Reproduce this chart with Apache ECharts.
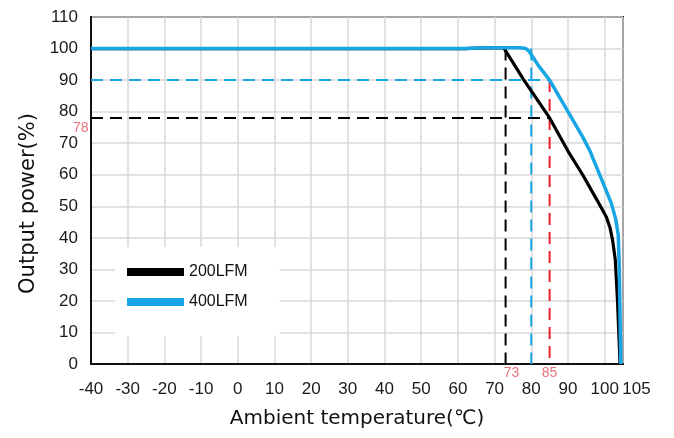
<!DOCTYPE html>
<html>
<head>
<meta charset="utf-8">
<script src="https://cdn.jsdelivr.net/npm/echarts@6/dist/echarts.min.js"></script>
<style>
html,body{margin:0;padding:0;background:#fff;}
#chart{width:674px;height:438px;}
</style>
</head>
<body>
<div id="chart"></div>
<script>
// ---- data ----
const temps200 = [-40, 62, 67, 72.5, 73, 78, 85, 90, 94, 98, 100.5, 101.5, 102.2, 102.9, 103.5, 104.2];
const power200 = [100, 100, 100.2, 100.2, 100, 90, 78, 67.5, 60, 51.8, 46.5, 43, 39, 33, 20, 0];
const temps400 = [-40, 62, 67, 77, 78.5, 79.5, 82, 85, 90, 94, 96, 99, 101.8, 103, 103.7, 104, 104.4];
const power400 = [100, 100, 100.25, 100.25, 100, 99, 94.5, 90, 80, 72, 67.5, 59, 51, 46, 41, 30, 0];
const seriesNames = ['200LFM', '400LFM'];
// reference (dashed) lines: [x1, x2], [y1, y2]
const ref78X = [-40, 85], ref78Y = [78, 78];
const ref73X = [73, 73], ref73Y = [100, 0];
const ref90X = [-40, 85], ref90Y = [90, 90];
const ref80X = [80, 80], ref80Y = [100, 0];
const ref85X = [85, 85], ref85Y = [90, 0];
// annotation labels
const noteX = [-40, 73, 85];
const noteY = [78, 0, 0];
const noteText = ['78', '73', '85'];
// axes
const xMin = -40, xMax = 105, xStep = 10;
const yMin = 0, yMax = 110, yStep = 10;

const zip = (xs, ys) => xs.map((x, i) => [x, ys[i]]);

const BLACK = '#000000';
const BLUE = '#17a6e3';
const RED = '#e8212b';
const RED_TXT = '#e4505a';
const FONT = 'Liberation Sans, Arial, sans-serif';

function dashed(name, xs, ys, color) {
  return {
    name: name, type: 'line', data: zip(xs, ys), symbol: 'none', silent: true, z: 3,
    lineStyle: { color: color, width: 2, type: [12, 7] }
  };
}

const chart = echarts.init(document.getElementById('chart'), null, { renderer: 'canvas' });
const option = {
  animation: false,
  backgroundColor: '#fff',
  grid: { left: 91, right: 51, top: 17, bottom: 74, show: true, borderColor: '#111', borderWidth: 2, backgroundColor: 'transparent' },
  legend: {
    data: seriesNames,
    orient: 'vertical',
    left: 115, top: 247,
    padding: [17, 32, 26, 12],
    itemGap: 14,
    itemWidth: 57, itemHeight: 8,
    icon: 'rect',
    backgroundColor: '#fff',
    textStyle: { fontFamily: FONT, fontSize: 16, color: '#111' }
  },
  xAxis: {
    type: 'value', min: xMin, max: xMax, interval: xStep,
    name: 'Ambient temperature(℃)', nameLocation: 'middle', nameGap: 45,
    nameTextStyle: { fontFamily: 'DejaVu Sans, sans-serif', fontSize: 20, color: '#111' },
    axisLine: { show: true, onZero: false, lineStyle: { color: '#111', width: 2 } },
    axisTick: { show: false },
    splitLine: { show: true, lineStyle: { color: '#d9d9d9', width: 1.5 } },
    axisLabel: {
      margin: 17, fontFamily: FONT, fontSize: 17, color: '#1a1a1a',
      formatter: v => v === xMax ? '{r|' + v + '}' : String(v),
      rich: { r: { padding: [0, 0, 0, 27], fontFamily: FONT, fontSize: 17, color: '#1a1a1a' } }
    }
  },
  yAxis: {
    type: 'value', min: yMin, max: yMax, interval: yStep,
    name: 'Output power(%)', nameLocation: 'middle', nameGap: 52,
    nameTextStyle: { fontFamily: 'DejaVu Sans, sans-serif', fontSize: 21, color: '#111', padding: [0, 26, 0, 0] },
    axisLine: { show: true, onZero: false, lineStyle: { color: '#111', width: 2 } },
    axisTick: { show: false },
    splitLine: { show: true, lineStyle: { color: '#d9d9d9', width: 1.5 } },
    axisLabel: { margin: 13, fontFamily: FONT, fontSize: 17, color: '#1a1a1a' }
  },
  series: [
    dashed('ref78', ref78X, ref78Y, BLACK),
    dashed('ref73', ref73X, ref73Y, BLACK),
    dashed('ref90', ref90X, ref90Y, BLUE),
    dashed('ref80', ref80X, ref80Y, BLUE),
    dashed('ref85', ref85X, ref85Y, RED),
    {
      name: seriesNames[0], type: 'line', data: zip(temps200, power200), symbol: 'none', z: 5,
      color: BLACK, lineStyle: { color: BLACK, width: 3.2 }
    },
    {
      name: seriesNames[1], type: 'line', data: zip(temps400, power400), symbol: 'none', z: 6,
      color: BLUE, lineStyle: { color: BLUE, width: 3.5 }
    },
    {
      name: 'notes', type: 'scatter', silent: true, clip: false, z: 7,
      symbolSize: 1, itemStyle: { color: 'transparent' },
      data: noteX.map((x, i) => ({
        value: [x, noteY[i]],
        label: i === 0
          ? { show: true, position: 'left', distance: 2, offset: [0, 10], formatter: noteText[i] }
          : { show: true, position: 'bottom', distance: 2, offset: [i === 1 ? 6 : 0, 0], formatter: noteText[i] }
      })),
      label: { fontFamily: FONT, fontSize: 14, color: RED_TXT }
    }
  ]
};
chart.setOption(option);
</script>
</body>
</html>
